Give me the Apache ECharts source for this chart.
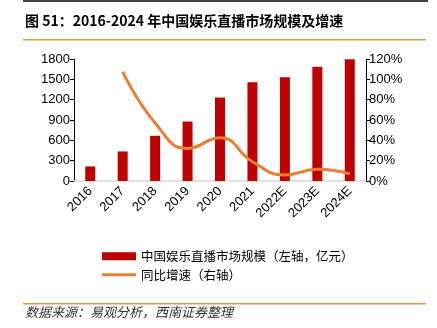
<!DOCTYPE html>
<html>
<head>
<meta charset="utf-8">
<script src="https://cdn.jsdelivr.net/npm/echarts@6/dist/echarts.min.js"></script>
<style>
  html, body { margin: 0; padding: 0; background: #fff; }
  #chart { width: 437px; height: 328px; }
</style>
</head>
<body>
<div id="chart"></div>
<script>
// 年份与数据
const years = ['2016', '2017', '2018', '2019', '2020', '2021', '2022E', '2023E', '2024E'];
const marketSize = [215, 436, 667, 877, 1231, 1457, 1531, 1687, 1796];      // 亿元
const growthRate = [null, 107.5, 57, 32, 42.5, 19, 6, 11.5, 7];             // %
const leftTicks = { min: 0, max: 1800, interval: 300 };
const rightTicks = { min: 0, max: 120, interval: 20 };

const seriesNames = ['中国娱乐直播市场规模（左轴，亿元）', '同比增速（右轴）'];
const titleText = '图 51：2016-2024 年中国娱乐直播市场规模及增速';
const sourceText = '数据来源：易观分析，西南证券整理';

const FONT = '"Liberation Sans", Arial, "Noto Sans CJK SC", sans-serif';
const CJK = '"Noto Sans CJK SC", "Liberation Sans", sans-serif';

const chart = echarts.init(document.getElementById('chart'), null, { renderer: 'canvas' });

chart.setOption({
  backgroundColor: '#fff',
  animation: false,
  textStyle: { fontFamily: FONT },
  title: {
    text: titleText,
    left: 23,
    top: 14,
    padding: [0, 2],
    textStyle: { fontFamily: CJK, fontSize: 14, fontWeight: 'bold', color: '#000' }
  },
  graphic: {
    elements: [
      { type: 'rect', id: 'topRule', z: 100,
        shape: { x: 23, y: 0, width: 405, height: 2 },
        style: { fill: '#404040' } },
      { type: 'rect', id: 'titleRule', z: 100,
        shape: { x: 23, y: 39, width: 403, height: 1.5 },
        style: { fill: '#D9A04A' } },
      { type: 'rect', id: 'footRule', z: 100,
        shape: { x: 23, y: 303, width: 403, height: 1.5 },
        style: { fill: '#D9A04A' } },
      { type: 'text', id: 'source', x: 25, y: 306, z: 100,
        style: { text: sourceText, font: 'italic 13px ' + CJK, fill: '#333', textVerticalAlign: 'top' } }
    ]
  },
  legend: {
    orient: 'vertical',
    left: 97,
    top: 245,
    itemWidth: 34,
    itemHeight: 8,
    itemGap: 6,
    textStyle: { fontFamily: CJK, fontSize: 12.5, color: '#000' },
    data: [
      { name: seriesNames[0], icon: 'rect' },
      // thin bar centred in the 8px legend slot
      { name: seriesNames[1], icon: 'path://M0,0M0,2.5H34V5.5H0Z M0,8' }
    ]
  },
  grid: { left: 74, right: 71, top: 59, bottom: 147, containLabel: false },
  xAxis: {
    type: 'category',
    data: years,
    axisLine: { lineStyle: { color: '#D9D9D9', width: 1.5 } },
    axisTick: { show: false },
    axisLabel: { rotate: 45, fontSize: 13, color: '#000', margin: 8, fontFamily: FONT, interval: 0 }
  },
  yAxis: [
    {
      type: 'value',
      min: leftTicks.min, max: leftTicks.max, interval: leftTicks.interval,
      axisLine: { show: true, lineStyle: { color: '#000', width: 1 } },
      axisTick: { show: true, length: 4, lineStyle: { color: '#000' } },
      splitLine: { show: false },
      axisLabel: { fontSize: 13, color: '#000', margin: 4, fontFamily: FONT, formatter: v => String(v) }
    },
    {
      type: 'value',
      min: rightTicks.min, max: rightTicks.max, interval: rightTicks.interval,
      position: 'right',
      axisLine: { show: true, lineStyle: { color: '#000', width: 1 } },
      axisTick: { show: true, length: 4, lineStyle: { color: '#000' } },
      splitLine: { show: false },
      axisLabel: { fontSize: 13, color: '#000', margin: 3, fontFamily: FONT, formatter: '{value}%' }
    }
  ],
  series: [
    {
      name: seriesNames[0],
      type: 'bar',
      data: marketSize,
      barWidth: 10,
      itemStyle: { color: '#C00000' }
    },
    {
      name: seriesNames[1],
      type: 'line',
      yAxisIndex: 1,
      data: growthRate,
      smooth: 0.5,
      symbol: 'none',
      connectNulls: false,
      lineStyle: { color: '#ED7D31', width: 3 },
      itemStyle: { color: '#ED7D31' }
    }
  ]
});
</script>
</body>
</html>
